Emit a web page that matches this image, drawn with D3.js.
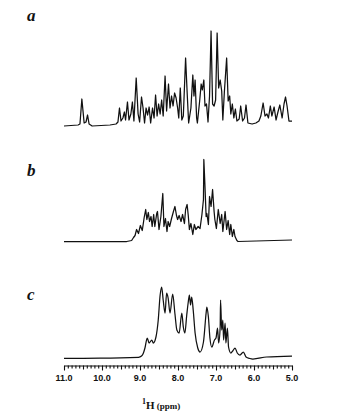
<!DOCTYPE html>
<html>
<head>
<meta charset="utf-8">
<script src="https://cdn.jsdelivr.net/npm/d3@7/dist/d3.min.js"></script>
<style>
  html, body { margin: 0; padding: 0; background: #fff; }
  svg { display: block; }
</style>
</head>
<body>
<svg id="chart" width="356" height="416"></svg>
<script>
// ---- data (chemical shift in ppm, intensity in arbitrary units) ----
const panelLabels = ["a", "b", "c"];

const aPpm = [11.00,10.63,10.58,10.53,10.47,10.42,10.38,10.34,10.26,9.79,9.63,9.58,9.54,9.50,9.45,9.41,9.38,9.33,9.29,9.24,9.20,9.16,9.10,9.05,9.01,8.96,8.92,8.88,8.84,8.80,8.76,8.72,8.67,8.63,8.59,8.55,8.51,8.47,8.43,8.39,8.34,8.30,8.25,8.21,8.17,8.13,8.09,8.05,8.01,7.98,7.94,7.90,7.86,7.80,7.76,7.72,7.66,7.61,7.58,7.55,7.51,7.49,7.43,7.39,7.36,7.32,7.29,7.25,7.21,7.17,7.13,7.09,7.05,7.01,6.97,6.93,6.89,6.85,6.82,6.78,6.72,6.68,6.64,6.61,6.57,6.53,6.49,6.45,6.39,6.35,6.30,6.25,6.21,6.16,6.05,5.95,5.87,5.82,5.76,5.71,5.66,5.62,5.57,5.53,5.47,5.42,5.37,5.32,5.26,5.21,5.17,5.13,5.08,5.00];
const aInt = [0,1,2,27,3,4,11,2,0,1,2,4,18,5,8,14,6,24,6,12,24,5,48,12,4,29,18,3,18,11,19,3,18,8,31,10,22,12,26,10,50,15,42,18,30,20,33,28,18,8,38,6,10,68,34,3,18,51,30,46,8,3,25,42,36,46,20,22,4,30,95,22,20,26,93,38,46,35,6,34,68,25,30,12,22,8,17,5,7,20,5,8,21,3,2,3,5,10,23,10,12,8,20,10,19,6,14,21,8,22,29,20,5,5];

const bPpm = [11.00,9.35,9.22,9.17,9.13,9.09,9.04,8.99,8.94,8.89,8.85,8.82,8.78,8.75,8.71,8.68,8.64,8.61,8.56,8.54,8.50,8.45,8.40,8.37,8.33,8.29,8.26,8.22,8.17,8.12,8.08,8.04,8.01,7.97,7.92,7.88,7.83,7.80,7.76,7.73,7.70,7.66,7.61,7.57,7.53,7.47,7.42,7.37,7.33,7.32,7.29,7.26,7.24,7.20,7.17,7.13,7.09,7.05,7.03,6.99,6.94,6.89,6.85,6.82,6.76,6.72,6.68,6.64,6.61,6.57,6.53,6.50,6.45,6.42,5.00];
const bInt = [0,0,1,4,6,12,8,16,11,24,32,22,29,20,25,15,27,15,28,30,12,25,48,15,23,10,20,15,23,30,35,26,22,26,20,27,18,32,37,26,12,18,7,17,12,15,13,27,42,82,55,25,28,17,45,35,52,30,22,13,32,18,27,10,30,12,21,7,17,5,12,5,1,0,1.5];

const cPpm = [11.00,10.05,9.04,8.96,8.91,8.87,8.81,8.76,8.69,8.65,8.58,8.52,8.47,8.43,8.39,8.34,8.30,8.26,8.21,8.14,8.08,8.03,7.97,7.90,7.86,7.82,7.77,7.73,7.70,7.67,7.64,7.60,7.55,7.48,7.42,7.33,7.26,7.24,7.20,7.16,7.11,7.04,7.00,6.96,6.93,6.89,6.88,6.85,6.82,6.80,6.76,6.74,6.70,6.67,6.61,6.56,6.50,6.44,6.37,6.28,6.21,6.11,6.03,5.67,5.00];
const cInt = [0.7,0.8,1.7,3,6,11,21,16,19,16,22,39,64,72,59,46,66,61,46,65,45,29,26,46,32,26,44,57,64,54,62,49,26,11,7,17,46,52,42,21,12,19,21,31,16,32,59,29,39,19,36,16,31,12,6,8,11,6,4,7,2,0.5,0,2,3];

const tickValues = [11, 10, 9, 8, 7, 6, 5];
const tickLabels = ["11.0", "10.0", "9.0", "8.0", "7.0", "6.0", "5.0"];
const axisTitleSup = "1";
const axisTitleMain = "H";
const axisTitleUnit = " (ppm)";

// ---- layout ----
const svg = d3.select("#chart");
const x = d3.scaleLinear().domain([11, 5]).range([64, 292]);
const baselines = [126, 241.5, 359];
const labelPos = [[27, 21], [27, 176], [27, 300]];
const series = [
  {ppm: aPpm, val: aInt},
  {ppm: bPpm, val: bInt},
  {ppm: cPpm, val: cInt}
];

series.forEach((s, i) => {
  const y = d3.scaleLinear().domain([0, 100]).range([baselines[i], baselines[i] - 100]);
  const pts = s.ppm.map((p, k) => [p, s.val[k]]);
  const line = d3.line()
    .x(d => x(d[0]))
    .y(d => y(d[1]))
    .curve(i === 2 ? d3.curveMonotoneX : d3.curveLinear);
  svg.append("path")
    .attr("d", line(pts))
    .attr("fill", "none")
    .attr("stroke", "#111")
    .attr("stroke-width", 1.25)
    .attr("stroke-linejoin", "round");
  svg.append("text")
    .attr("x", labelPos[i][0])
    .attr("y", labelPos[i][1])
    .attr("font-family", "'Liberation Serif', 'Times New Roman', serif")
    .attr("font-style", "italic")
    .attr("font-weight", "bold")
    .attr("font-size", 17)
    .attr("fill", "#111")
    .text(panelLabels[i]);
});

// ---- axis ----
const axisY = 365.5;
const minorTicks = d3.range(110, 49, -1).map(v => v / 10);
const axisG = svg.append("g")
  .attr("transform", `translate(0,${axisY})`)
  .call(d3.axisBottom(x)
    .tickValues(minorTicks)
    .tickSizeOuter(0)
    .tickSizeInner(3)
    .tickFormat(""));
axisG.selectAll(".tick line")
  .attr("y2", d => {
    const t = Math.round(d * 10);
    if (t % 10 === 0) return 5;
    if (t % 5 === 0) return 4;
    return 3;
  });
axisG.selectAll("line, path").attr("stroke", "#111").attr("stroke-width", 1.1);

svg.append("g").selectAll("text")
  .data(tickValues)
  .join("text")
  .attr("x", d => x(d))
  .attr("y", 381)
  .attr("text-anchor", "middle")
  .attr("font-family", "'Liberation Sans', Arial, sans-serif")
  .attr("font-weight", "bold")
  .attr("font-size", 9)
  .attr("fill", "#111")
  .text((d, i) => tickLabels[i]);

const title = svg.append("text")
  .attr("x", 142)
  .attr("y", 409)
  .attr("font-family", "'Liberation Serif', 'Times New Roman', serif")
  .attr("fill", "#111");
title.append("tspan").attr("font-size", 8).attr("font-weight", "bold").attr("dy", -5).text(axisTitleSup);
title.append("tspan").attr("font-size", 11).attr("font-weight", "bold").attr("dy", 5).text(axisTitleMain);
title.append("tspan").attr("font-size", 9).attr("font-weight", "bold").text(axisTitleUnit);
</script>
</body>
</html>
